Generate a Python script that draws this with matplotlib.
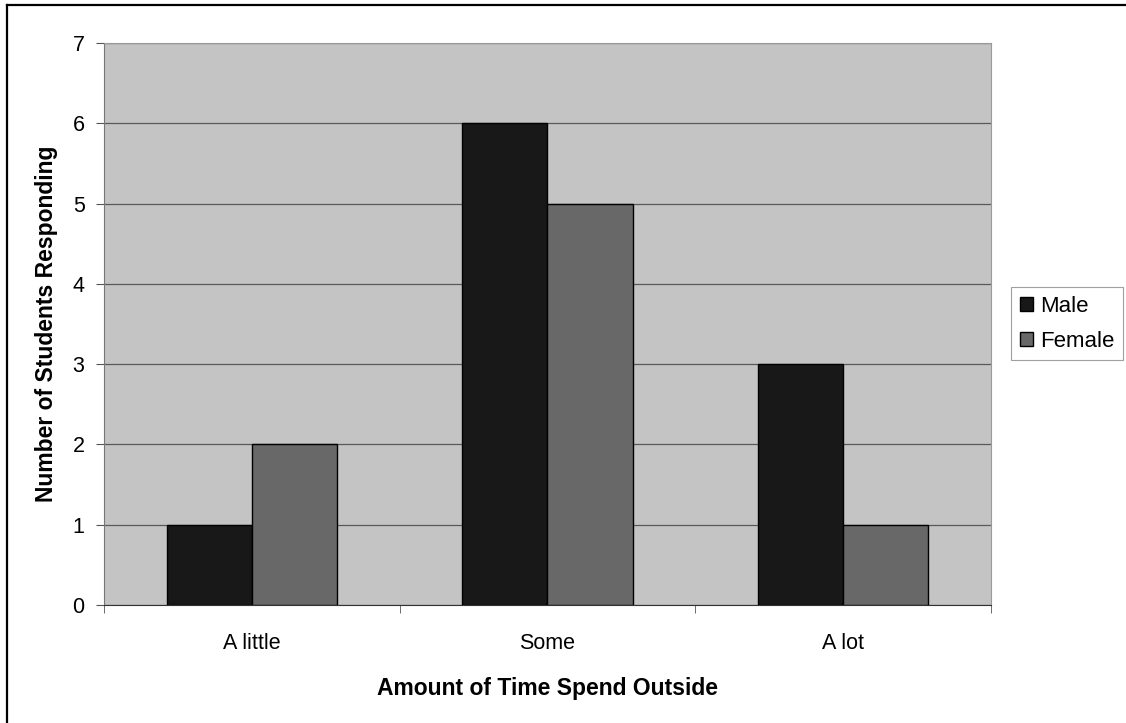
import matplotlib.pyplot as plt
import numpy as np
from matplotlib.lines import Line2D

# survey results
categories = ["A little", "Some", "A lot"]
male = [1, 6, 3]
female = [2, 5, 1]
yticks = [0, 1, 2, 3, 4, 5, 6, 7]

plt.rcParams['font.family'] = ['Liberation Sans', 'DejaVu Sans']

fig = plt.figure(figsize=(11.26, 7.23), dpi=100)
ax = fig.add_axes([0.0924, 0.1632, 0.7876, 0.7773])
ax.set_facecolor('#c4c4c4')

x = np.arange(len(categories))
w = 0.288
ax.bar(x - w / 2, male, w, color='#181818', edgecolor='black', linewidth=1, label='Male', zorder=3)
ax.bar(x + w / 2, female, w, color='#686868', edgecolor='black', linewidth=1, label='Female', zorder=3)

ax.set_ylim(0, 7)
ax.set_xlim(-0.5, len(categories) - 0.5)
ax.set_yticks(yticks)
ax.yaxis.grid(True, color='#5a5a5a', linewidth=0.9)
ax.set_axisbelow(True)

# category labels centred, tick marks on the boundaries
ax.set_xticks(x)
ax.set_xticklabels(categories)
ax.set_xticks(np.arange(-0.5, len(categories), 1), minor=True)
ax.tick_params(axis='x', which='major', length=0, pad=20, labelsize=15.5)
ax.tick_params(axis='x', which='minor', length=6, color='#555555')
ax.tick_params(axis='y', length=6, color='#555555', labelsize=15.5, pad=8)

for s in ['top', 'right']:
    ax.spines[s].set_color('#9a9a9a')
ax.spines['left'].set_color('#777777')
ax.spines['bottom'].set_color('#333333')

ax.set_xlabel("Amount of Time Spend Outside", fontsize=16.5, fontweight='bold')
ax.set_ylabel("Number of Students Responding", fontsize=16.5, fontweight='bold')
ax.xaxis.set_label_coords(0.5, -0.128)
ax.yaxis.set_label_coords(-0.052, 0.5)

leg = fig.legend(loc='center left', bbox_to_anchor=(0.898, 0.552), fontsize=16,
                 fancybox=False, edgecolor='#888888', handlelength=0.6, handleheight=0.6,
                 handletextpad=0.3, borderpad=0.4, labelspacing=0.6, borderaxespad=0)
leg.get_frame().set_linewidth(0.8)

# outer chart border (top and left edges)
fig.add_artist(Line2D([0.006, 1], [0.993, 0.993], color='black', linewidth=1.6))
fig.add_artist(Line2D([0.006, 0.006], [0, 0.993], color='black', linewidth=1.6))

plt.savefig('out.png', dpi=100)
